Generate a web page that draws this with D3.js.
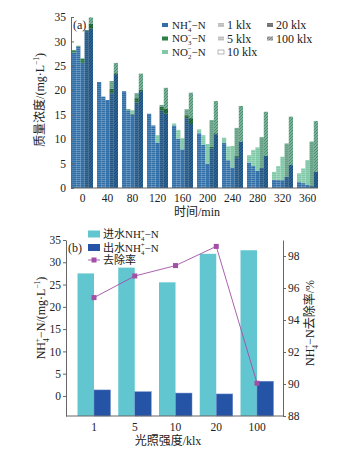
<!DOCTYPE html>
<html lang="zh">
<head>
  <meta charset="UTF-8">
  <title>NH4+-N removal under light</title>
  <script src="https://d3js.org/d3.v7.min.js"></script>
  <style>
    body { margin: 0; background: #fff; }
    svg text { font-family: "Liberation Serif", "Noto Sans CJK SC", serif; fill: #222; }
    .axis path, .axis line { stroke: #666; }
  </style>
</head>
<body>
  <svg width="347" height="451"></svg>

  <script>
    // ---- panel (a) data: rows = time, columns = light intensity ----
    const times = [0, 40, 80, 120, 160, 200, 240, 280, 320, 360];
    const lux = ["1 klx", "5 klx", "10 klx", "20 klx", "100 klx"];
    const nh4 = [
      [27.7, 28.9, 25.6, 32.1, 32.6],
      [21.7, 18.7, 18.0, 19.4, 23.3],
      [19.8, 15.9, 15.0, 17.5, 19.8],
      [15.2, 12.8, 9.3, 15.8, 15.2],
      [12.8, 10.1, 7.9, 14.3, 13.1],
      [11.2, 8.8, 5.0, 8.1, 11.0],
      [9.2, 5.7, 4.2, 6.3, 9.5],
      [5.2, 4.5, 3.5, 4.1, 6.6],
      [1.7, 1.7, 1.6, 2.3, 4.7],
      [1.2, 1.0, 0.6, 0.4, 3.3]
    ];
    const no3 = [
      [0.5, 0.2, 0.9, 0.2, 1.0],
      [0, 0, 0, 0.9, 0.2],
      [0, 0.2, 0.2, 0.9, 0.3],
      [0, 0, 0, 0.8, 1.0],
      [0, 0, 0, 0.6, 1.2],
      [0, 0, 0, 0.3, 0.2],
      [0, 0, 0, 0.3, 0],
      [0, 0, 0, 0, 0],
      [0, 0, 0, 0, 0],
      [0, 0, 0, 0, 0]
    ];
    const no2 = [
      [0, 0, 0, 0, 1.3],
      [0, 0, 0, 1.6, 2.1],
      [0, 0, 0.7, 1.0, 3.3],
      [0, 0, 1.5, 0.4, 4.3],
      [0.4, 1.8, 2.3, 1.2, 5.2],
      [0.8, 2.0, 4.0, 5.5, 6.6],
      [1.1, 2.8, 4.4, 5.7, 7.3],
      [1.5, 3.3, 4.8, 6.3, 9.0],
      [1.6, 2.8, 4.8, 6.8, 9.9],
      [1.8, 3.0, 5.1, 9.1, 10.4]
    ];
    const yTicksA = [0, 5, 10, 15, 20, 25, 30, 35];

    // ---- panel (b) data ----
    const luxB = ["1", "5", "10", "20", "100"];
    const influent = [27.5, 28.8, 25.5, 31.9, 32.7];
    const effluent = [1.35, 0.95, 0.65, 0.45, 3.3];
    const removal = [95.4, 96.75, 97.4, 98.6, 90.05];
    const yTicksB = [0, 5, 10, 15, 20, 25, 30, 35];
    const yTicksR = [88, 90, 92, 94, 96, 98];

    const colNH4 = "#2f6ea6", colNO3 = "#2b7f47", colNO2 = "#80c9a8";
    const colIn = "#62c6d0", colOut = "#2553a5", colRate = "#a24fa6";
    const fs = 12, lfs = 11;

    const svg = d3.select("svg");
    svg.append("rect").attr("width", 347).attr("height", 451).attr("fill", "#fff");

    // texture overlays, one per light intensity
    const defs = svg.append("defs");
    function stripes(id, op, dark) {
      const p = defs.append("pattern").attr("id", id)
        .attr("patternUnits", "userSpaceOnUse").attr("width", 4).attr("height", 2);
      if (dark) p.append("rect").attr("width", 4).attr("height", 2).attr("fill", "#000").attr("opacity", dark);
      p.append("rect").attr("width", 4).attr("height", 1).attr("fill", "#fff").attr("opacity", op);
    }
    stripes("p0", 0.16, 0);
    stripes("p1", 0.24, 0);
    stripes("p2", 0.08, 0);
    stripes("p3", 0.12, 0.2);
    const hatch = defs.append("pattern").attr("id", "p4")
      .attr("patternUnits", "userSpaceOnUse").attr("width", 3).attr("height", 3);
    hatch.append("rect").attr("width", 3).attr("height", 3).attr("fill", "#000").attr("opacity", 0.1);
    hatch.append("path").attr("d", "M-1,1 L1,-1 M0,3 L3,0 M2,4 L4,2")
      .attr("stroke", "#000").attr("stroke-opacity", 0.3).attr("stroke-width", 0.8);

    // ion label helper: NH4+ style stacked sub/superscript
    function ion(t, pre, el, sub, sup, post, size) {
      if (pre) t.append("tspan").text(pre);
      t.append("tspan").text(el);
      t.append("tspan").attr("font-size", size * 0.62).attr("dy", size * 0.3).text(sub);
      t.append("tspan").attr("font-size", size * 0.62).attr("dx", -size * 0.33).attr("dy", -size * 0.7).text(sup);
      t.append("tspan").attr("dy", size * 0.4).text(post);
      return t;
    }
    function unit(t, size) {
      t.append("tspan").text("/(mg·L");
      t.append("tspan").attr("font-size", size * 0.62).attr("dy", -size * 0.4).text("−1");
      t.append("tspan").attr("dy", size * 0.4).text(")");
    }

    // ================= panel (a) =================
    const xa = d3.scaleBand().domain(times).range([72, 318]).paddingInner(0.16).paddingOuter(0);
    const xi = d3.scaleBand().domain(lux).range([0, xa.bandwidth()]);
    const ya = d3.scaleLinear().domain([0, 35]).range([188, 17]);

    const segs = [];
    const bars = [];
    times.forEach((t, i) => {
      lux.forEach((l, j) => {
        const a = nh4[i][j], b = a + no3[i][j], c = b + no2[i][j];
        segs.push({ t, l, y0: 0, y1: a, c: colNH4 });
        segs.push({ t, l, y0: a, y1: b, c: colNO3 });
        segs.push({ t, l, y0: b, y1: c, c: colNO2 });
        bars.push({ t, l, j, top: c });
      });
    });

    const ga = svg.append("g");
    ga.selectAll(".seg").data(segs.filter(d => d.y1 > d.y0)).enter().append("rect")
      .attr("class", "seg")
      .attr("x", d => xa(d.t) + xi(d.l))
      .attr("width", xi.bandwidth())
      .attr("y", d => ya(d.y1))
      .attr("height", d => ya(d.y0) - ya(d.y1))
      .attr("fill", d => d.c);
    ga.selectAll(".tex").data(bars).enter().append("rect")
      .attr("class", "tex")
      .attr("x", d => xa(d.t) + xi(d.l))
      .attr("width", xi.bandwidth())
      .attr("y", d => ya(d.top))
      .attr("height", d => ya(0) - ya(d.top))
      .attr("fill", d => `url(#p${d.j})`);

    svg.append("g").attr("class", "axis")
      .attr("transform", "translate(71,0)")
      .call(d3.axisLeft(ya).tickValues(yTicksA).tickSize(-3).tickSizeOuter(0).tickPadding(5))
      .call(g => g.selectAll("text").attr("font-size", 11.5));
    svg.append("g").attr("class", "axis")
      .attr("transform", "translate(0,188)")
      .call(d3.axisBottom(xa).tickSize(0).tickPadding(6))
      .call(g => g.select(".domain").attr("d", "M71,0H318"))
      .call(g => g.selectAll("text").attr("font-size", 11.5));

    svg.append("text").attr("x", 73).attr("y", 29).attr("font-size", fs).text("(a)");
    svg.append("text").attr("x", 197).attr("y", 216).attr("font-size", fs)
      .attr("text-anchor", "middle").text("时间/min");
    const yla = svg.append("text").attr("font-size", fs).attr("text-anchor", "middle")
      .attr("transform", "translate(44,100) rotate(-90)");
    yla.append("tspan").text("质量浓度");
    unit(yla, fs);

    // legend (a)
    const ionRows = [["NH", "4", "+", colNH4], ["NO", "3", "−", colNO3], ["NO", "2", "−", colNO2]];
    ionRows.forEach((r, k) => {
      const y = 25 + k * 13.5;
      svg.append("rect").attr("x", 162).attr("y", y - 2).attr("width", 6).attr("height", 4).attr("fill", r[3]);
      ion(svg.append("text").attr("x", 172).attr("y", y + 3.5).attr("font-size", lfs), "", r[0], r[1], r[2], "−N", lfs);
    });
    const luxPos = [[218, 25], [218, 38.5], [218, 52], [267, 25], [267, 38.5]];
    lux.forEach((l, j) => {
      const [x, y] = luxPos[j];
      const sw = svg.append("g");
      sw.append("rect").attr("x", x).attr("y", y - 2).attr("width", 6).attr("height", 4)
        .attr("fill", j === 2 ? "#fff" : (j === 3 ? "#8a8a8a" : "#bdbdbd"))
        .attr("stroke", j === 2 ? "#888" : "none").attr("stroke-width", 0.6);
      if (j !== 2) sw.append("rect").attr("x", x).attr("y", y - 2).attr("width", 6).attr("height", 4).attr("fill", `url(#p${j})`);
      svg.append("text").attr("x", x + 9).attr("y", y + 4).attr("font-size", fs).text(l);
    });

    // ================= panel (b) =================
    const xb = d3.scalePoint().domain(luxB).range([94, 257]);
    const yb = d3.scaleLinear().domain([-4.5, 35]).range([416, 240]);
    const yr = d3.scaleLinear().domain([88, 99]).range([416, 240]);
    const bw = 16.5;

    const gb = svg.append("g");
    gb.selectAll(".in").data(luxB).enter().append("rect")
      .attr("x", d => xb(d) - bw).attr("width", bw)
      .attr("y", (d, i) => yb(influent[i]))
      .attr("height", (d, i) => yb(-4.5) - yb(influent[i]))
      .attr("fill", colIn);
    gb.selectAll(".out").data(luxB).enter().append("rect")
      .attr("x", d => xb(d)).attr("width", bw)
      .attr("y", (d, i) => yb(effluent[i]))
      .attr("height", (d, i) => yb(-4.5) - yb(effluent[i]))
      .attr("fill", colOut).attr("stroke", "#6f8fd0").attr("stroke-width", 0.5);

    const line = d3.line().x((d, i) => xb(luxB[i])).y(d => yr(d));
    gb.append("path").datum(removal).attr("d", line)
      .attr("fill", "none").attr("stroke", colRate).attr("stroke-width", 0.9);
    gb.selectAll(".mk").data(removal).enter().append("rect")
      .attr("x", (d, i) => xb(luxB[i]) - 2.5).attr("y", d => yr(d) - 2.5)
      .attr("width", 5).attr("height", 5).attr("fill", colRate);

    svg.append("g").attr("class", "axis")
      .attr("transform", "translate(66,0)")
      .call(d3.axisLeft(yb).tickValues(yTicksB).tickSize(3).tickSizeOuter(0).tickPadding(2))
      .call(g => g.selectAll("text").attr("font-size", 11.5));
    svg.append("g").attr("class", "axis")
      .attr("transform", "translate(283,0)")
      .call(d3.axisRight(yr).tickValues(yTicksR).tickSize(3).tickSizeOuter(0).tickPadding(2))
      .call(g => g.selectAll("text").attr("font-size", 11.5));
    svg.append("line").attr("x1", 66).attr("x2", 283).attr("y1", 416).attr("y2", 416)
      .attr("stroke", "#666");
    svg.append("g").selectAll("text").data(luxB).enter().append("text")
      .attr("x", d => xb(d)).attr("y", 431).attr("font-size", 11.5)
      .attr("text-anchor", "middle").text(d => d);

    svg.append("text").attr("x", 168).attr("y", 445).attr("font-size", fs)
      .attr("text-anchor", "middle").text("光照强度/klx");
    const ylb = svg.append("text").attr("font-size", fs).attr("text-anchor", "middle")
      .attr("transform", "translate(45,318) rotate(-90)");
    ion(ylb, "", "NH", "4", "+", "−N", fs);
    unit(ylb, fs);
    const yrb = svg.append("text").attr("font-size", fs).attr("text-anchor", "middle")
      .attr("transform", "translate(314,323) rotate(-90)");
    ion(yrb, "", "NH", "4", "+", "−N去除率/%", fs);

    svg.append("text").attr("x", 68).attr("y", 252).attr("font-size", fs).text("(b)");

    // legend (b)
    svg.append("rect").attr("x", 88).attr("y", 230.5).attr("width", 12).attr("height", 7).attr("fill", colIn);
    ion(svg.append("text").attr("x", 103).attr("y", 238).attr("font-size", lfs), "进水", "NH", "4", "+", "−N", lfs);
    svg.append("rect").attr("x", 88).attr("y", 244).attr("width", 12).attr("height", 7).attr("fill", colOut);
    ion(svg.append("text").attr("x", 103).attr("y", 251.5).attr("font-size", lfs), "出水", "NH", "4", "+", "−N", lfs);
    svg.append("line").attr("x1", 88).attr("x2", 100).attr("y1", 260).attr("y2", 260)
      .attr("stroke", colRate).attr("stroke-width", 0.9);
    svg.append("rect").attr("x", 91.5).attr("y", 257.5).attr("width", 5).attr("height", 5).attr("fill", colRate);
    svg.append("text").attr("x", 103).attr("y", 264).attr("font-size", lfs).text("去除率");
  </script>
</body>
</html>
